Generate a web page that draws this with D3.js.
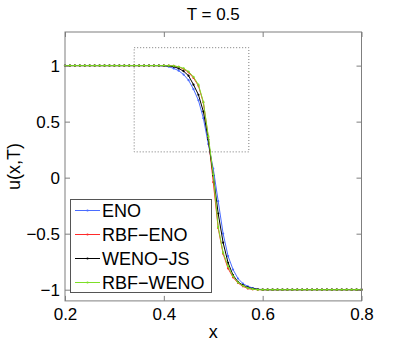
<!DOCTYPE html>
<html>
<head>
<meta charset="utf-8">
<script src="https://cdn.jsdelivr.net/npm/d3@7"></script>
<style>
  body { margin: 0; background: #fff; }
  svg text { font-family: "Liberation Sans", Arial, Helvetica, sans-serif; }
</style>
</head>
<body>
<div id="chart"></div>
<script>
// grid points
const xs = [0.20,0.21,0.22,0.23,0.24,0.25,0.26,0.27,0.28,0.29,
            0.30,0.31,0.32,0.33,0.34,0.35,0.36,0.37,0.38,0.39,
            0.40,0.41,0.42,0.43,0.44,0.45,0.46,0.47,0.48,0.49,
            0.50,0.51,0.52,0.53,0.54,0.55,0.56,0.57,0.58,0.59,
            0.60,0.61,0.62,0.63,0.64,0.65,0.66,0.67,0.68,0.69,
            0.70,0.71,0.72,0.73,0.74,0.75,0.76,0.77,0.78,0.79,0.80];

const eno = [1,1,1,1,1,1,1,1,1,1,
             1,1,1,1,1,1,1,1,1,0.999,
             0.997,0.99,0.975,0.955,0.92,0.87,0.79,0.69,0.53,0.30,
             0.08,-0.21,-0.50,-0.70,-0.82,-0.90,-0.945,-0.97,-0.985,-0.995,
             -0.999,-1,-1,-1,-1,-1,-1,-1,-1,-1,
             -1,-1,-1,-1,-1,-1,-1,-1,-1,-1,-1];

const rbfEno = [1,1,1,1,1,1,1,1,1,1,
                1,1,1,1,1,1,1,1,1,1,
                1,0.999,0.997,0.988,0.97,0.94,0.89,0.82,0.67,0.36,
                -0.04,-0.45,-0.68,-0.81,-0.89,-0.94,-0.97,-0.99,-0.997,-1,
                -1,-1,-1,-1,-1,-1,-1,-1,-1,-1,
                -1,-1,-1,-1,-1,-1,-1,-1,-1,-1,-1];

const wenoJs = [1,1,1,1,1,1,1,1,1,1,
                1,1,1,1,1,1,1,1,1,1,
                0.999,0.997,0.99,0.975,0.95,0.91,0.83,0.74,0.59,0.34,
                0.02,-0.32,-0.58,-0.76,-0.87,-0.93,-0.96,-0.98,-0.99,-0.997,
                -1,-1,-1,-1,-1,-1,-1,-1,-1,-1,
                -1,-1,-1,-1,-1,-1,-1,-1,-1,-1,-1];

const rbfWeno = [1,1,1,1,1,1,1,1,1,1,
                 1,1,1,1,1,1,1,1,1,1,
                 1,0.999,0.998,0.99,0.975,0.947,0.90,0.83,0.675,0.37,
                 0.03,-0.44,-0.67,-0.79,-0.88,-0.935,-0.965,-0.985,-0.995,-1,
                 -1,-1,-1,-1,-1,-1,-1,-1,-1,-1,
                 -1,-1,-1,-1,-1,-1,-1,-1,-1,-1,-1];

const seriesNames = ["ENO", "RBF\u2212ENO", "WENO\u2212JS", "RBF\u2212WENO"];
const seriesColors = ["#4a6cff", "#ff2a2a", "#000000", "#7ddf26"];
const seriesValues = [eno, rbfEno, wenoJs, rbfWeno];

const xTicks = [0.2, 0.4, 0.6, 0.8];
const yTicks = [-1, -0.5, 0, 0.5, 1];
const zoomBox = [0.34, 0.572, 0.23, 1.16]; // x0, x1, y0, y1

const width = 399, height = 344;
const plotLeft = 65, plotRight = 361.5, plotTop = 32, plotBottom = 300.9;

const svg = d3.select("#chart").append("svg")
    .attr("width", width)
    .attr("height", height);

const x = d3.scaleLinear().domain([0.2, 0.8]).range([plotLeft, plotRight]);
const y = d3.scaleLinear().domain([-1.1, 1.3]).range([plotBottom, plotTop]);

const fmt = d => d3.format("")(d).replace("-", "\u2212");

// axes (ticks pointing inward, MATLAB style box)
const axisColor = "#7f7f7f";
function styleAxis(g) {
    g.select(".domain").remove();
    g.selectAll(".tick line").attr("stroke", axisColor);
    g.selectAll(".tick text").attr("fill", "#000").style("font-size", "17px");
}

svg.append("g")
    .attr("transform", `translate(0,${plotBottom})`)
    .call(d3.axisBottom(x).tickValues(xTicks).tickSize(-5).tickPadding(7).tickFormat(fmt))
    .call(styleAxis);

svg.append("g")
    .attr("transform", `translate(0,${plotTop})`)
    .call(d3.axisTop(x).tickValues(xTicks).tickSize(-5).tickFormat(""))
    .call(styleAxis);

svg.append("g")
    .attr("transform", `translate(${plotLeft},0)`)
    .call(d3.axisLeft(y).tickValues(yTicks).tickSize(-5).tickPadding(5).tickFormat(fmt))
    .call(styleAxis);

svg.append("g")
    .attr("transform", `translate(${plotRight},0)`)
    .call(d3.axisRight(y).tickValues(yTicks).tickSize(-5).tickFormat(""))
    .call(styleAxis);

// zoom indicator box
svg.append("rect")
    .attr("x", x(zoomBox[0]))
    .attr("y", y(zoomBox[3]))
    .attr("width", x(zoomBox[1]) - x(zoomBox[0]))
    .attr("height", y(zoomBox[2]) - y(zoomBox[3]))
    .attr("fill", "none")
    .attr("stroke", "#777")
    .attr("stroke-width", 1)
    .attr("stroke-dasharray", "1,2");

// curves
const line = d3.line()
    .x((d, i) => x(xs[i]))
    .y(d => y(d));

seriesValues.forEach((vals, k) => {
    svg.append("path")
        .datum(vals)
        .attr("d", line)
        .attr("fill", "none")
        .attr("stroke", seriesColors[k])
        .attr("stroke-width", 1);
    svg.append("g")
        .selectAll("circle")
        .data(vals)
        .enter()
        .append("circle")
        .attr("cx", (d, i) => x(xs[i]))
        .attr("cy", d => y(d))
        .attr("r", 1.1)
        .attr("fill", seriesColors[k]);
});

// legend
const legend = svg.append("g");
legend.append("rect")
    .attr("x", 70.5).attr("y", 199.5)
    .attr("width", 141).attr("height", 93)
    .attr("fill", "#fff")
    .attr("stroke", "#555")
    .attr("stroke-width", 1);

seriesNames.forEach((name, k) => {
    const ly = 210.5 + k * 24;
    legend.append("line")
        .attr("x1", 75).attr("x2", 100)
        .attr("y1", ly).attr("y2", ly)
        .attr("stroke", seriesColors[k])
        .attr("stroke-width", 1);
    legend.append("circle")
        .attr("cx", 87.5).attr("cy", ly).attr("r", 1.1)
        .attr("fill", seriesColors[k]);
    legend.append("text")
        .attr("x", 102).attr("y", ly)
        .attr("dy", "0.36em")
        .style("font-size", "18px")
        .text(name);
});

// box outline
svg.append("rect")
    .attr("x", plotLeft).attr("y", plotTop)
    .attr("width", plotRight - plotLeft).attr("height", plotBottom - plotTop)
    .attr("fill", "none")
    .attr("stroke", axisColor)
    .attr("stroke-width", 1);

// titles
svg.append("text")
    .attr("x", (plotLeft + plotRight) / 2).attr("y", 20)
    .attr("text-anchor", "middle")
    .style("font-size", "17px")
    .text("T = 0.5");

svg.append("text")
    .attr("x", (plotLeft + plotRight) / 2).attr("y", 338)
    .attr("text-anchor", "middle")
    .style("font-size", "18px")
    .text("x");

svg.append("text")
    .attr("transform", `translate(20,${(plotTop + plotBottom) / 2}) rotate(-90)`)
    .attr("text-anchor", "middle")
    .style("font-size", "18px")
    .text("u(x,T)");
</script>
</body>
</html>
